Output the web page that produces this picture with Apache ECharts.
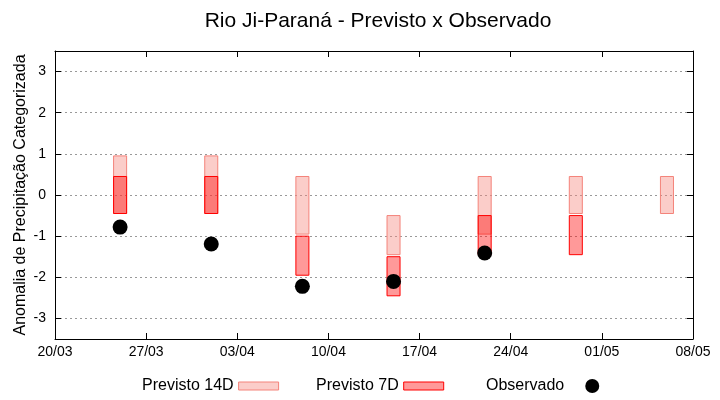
<!DOCTYPE html>
<html>
<head>
<meta charset="utf-8">
<script src="https://cdn.jsdelivr.net/npm/echarts@6/dist/echarts.min.js"></script>
<style>html,body{margin:0;padding:0;background:#fff}#c{width:720px;height:400px}</style>
</head>
<body>
<div id="c"></div>
<script>
// ---- data ----
const startDate = '20/03';
const tickLabels = ['20/03','27/03','03/04','10/04','17/04','24/04','01/05','08/05'];
const yTicks = [-3,-2,-1,0,1,2,3];
const forecastDates = ['25/03','01/04','08/04','15/04','22/04','29/04','06/05'];
const p14Low  = [-0.45,-0.45,-0.95,-1.45,-0.95,-0.45,-0.45];
const p14High = [ 0.95, 0.95, 0.45,-0.50, 0.45, 0.45, 0.45];
const p7Low   = [-0.45,-0.45,-1.95,-2.45,-1.45,-1.45,null];
const p7High  = [ 0.45, 0.45,-1.00,-1.50,-0.50,-0.50,null];
const obsDates  = ['25/03','01/04','08/04','15/04','22/04'];
const obsValues = [-0.78,-1.19,-2.22,-2.10,-1.41];

function dayIndex(s){
  const [d,m] = s.split('/').map(Number);
  const [d0,m0] = startDate.split('/').map(Number);
  return Math.round((Date.UTC(2024,m-1,d) - Date.UTC(2024,m0-1,d0)) / 86400000);
}
const span = dayIndex(tickLabels[tickLabels.length-1]);

const d14 = forecastDates.map((s,i)=>[dayIndex(s), p14Low[i], p14High[i]]);
const d7 = forecastDates.map((s,i)=>[dayIndex(s), p7Low[i], p7High[i]]).filter(r=>r[1]!==null);
const dObs = obsDates.map((s,i)=>[dayIndex(s), obsValues[i]]);

const font = "'Liberation Sans', Arial, sans-serif";
const c14 = {fill:'rgba(245,130,120,0.4)', stroke:'#f4837a'};
const c7 = {fill:'rgba(255,0,0,0.4)', stroke:'#ff0000'};

function boxRender(col){
  return function(params, api){
    const x = api.value(0), lo = api.value(1), hi = api.value(2);
    const p1 = api.coord([x-0.5, hi]);
    const p2 = api.coord([x+0.5, lo]);
    return {type:'rect', shape:{x:p1[0], y:p1[1], width:p2[0]-p1[0], height:p2[1]-p1[1]},
      style:{fill:col.fill, stroke:col.stroke, lineWidth:1}};
  };
}

const chart = echarts.init(document.getElementById('c'), null, {renderer:'canvas'});
const legendBase = {orient:'horizontal', align:'right', itemGap:0, padding:0, textStyle:{fontFamily:font, fontSize:16, color:'#000'}, selectedMode:false};
chart.setOption({
  animation:false,
  backgroundColor:'#fff',
  title:{text:'Rio Ji-Paraná - Previsto x Observado', left:373, textAlign:'center', top:6,
    textStyle:{fontFamily:font, fontSize:21, fontWeight:'normal', color:'#000'}},
  grid:{left:55, right:27, top:51, bottom:61},
  legend:[
    Object.assign({}, legendBase, {data:[{name:'Previsto 14D', icon:'rect'}], left:142, top:378, itemWidth:40, itemHeight:8,
      itemStyle:{color:c14.fill, borderColor:c14.stroke, borderWidth:1}}),
    Object.assign({}, legendBase, {data:[{name:'Previsto 7D', icon:'rect'}], left:316, top:378, itemWidth:40, itemHeight:8,
      itemStyle:{color:c7.fill, borderColor:c7.stroke, borderWidth:1}}),
    Object.assign({}, legendBase, {data:[{name:'Observado', icon:'circle'}], left:486, top:378, itemWidth:46, itemHeight:14,
      itemStyle:{color:'#000', opacity:1}})
  ],
  xAxis:[
    {type:'value', min:0, max:span, interval:7, position:'bottom',
     axisLine:{show:true, onZero:false, lineStyle:{color:'#000', width:1}},
     axisTick:{show:true, inside:true, length:6, lineStyle:{color:'#000'}},
     axisLabel:{fontFamily:font, fontSize:14, color:'#000', margin:6,
       formatter:(v)=>tickLabels[Math.round(v/7)] || ''},
     splitLine:{show:false}},
    {type:'value', min:0, max:span, interval:7, position:'top',
     axisLine:{show:true, onZero:false, lineStyle:{color:'#000', width:1}},
     axisTick:{show:true, inside:true, length:6, lineStyle:{color:'#000'}},
     axisLabel:{show:false}, splitLine:{show:false}}
  ],
  yAxis:[
    {type:'value', min:-3.5, max:3.5, position:'left',
     name:'Anomalia de Precipitação Categorizada', nameLocation:'middle', nameRotate:90, nameGap:26,
     nameMoveOverlap:false,
     nameTextStyle:{fontFamily:font, fontSize:16, color:'#000'},
     axisLine:{show:true, onZero:false, lineStyle:{color:'#000', width:1}},
     axisTick:{show:true, inside:true, length:6, customValues:yTicks, lineStyle:{color:'#000'}},
     axisLabel:{fontFamily:font, fontSize:14, color:'#000', margin:9, customValues:yTicks},
     splitLine:{show:true, lineStyle:{color:'#999', type:[2,3], width:1}}},
    {type:'value', min:-3.5, max:3.5, position:'right',
     axisLine:{show:true, onZero:false, lineStyle:{color:'#000', width:1}},
     axisTick:{show:true, inside:true, length:6, customValues:yTicks, lineStyle:{color:'#000'}},
     axisLabel:{show:false, customValues:yTicks}, splitLine:{show:false}}
  ],
  series:[
    {name:'Previsto 14D', type:'custom', xAxisIndex:0, yAxisIndex:0, renderItem:boxRender(c14), data:d14,
     itemStyle:{color:c14.fill, borderColor:c14.stroke}, encode:{x:0, y:[1,2]}},
    {name:'Previsto 7D', type:'custom', xAxisIndex:0, yAxisIndex:0, renderItem:boxRender(c7), data:d7,
     itemStyle:{color:c7.fill, borderColor:c7.stroke}, encode:{x:0, y:[1,2]}},
    {name:'Observado', type:'scatter', xAxisIndex:0, yAxisIndex:0, data:dObs, symbol:'circle', symbolSize:15,
     itemStyle:{color:'#000', opacity:1}, z:5}
  ]
});
</script>
</body>
</html>
